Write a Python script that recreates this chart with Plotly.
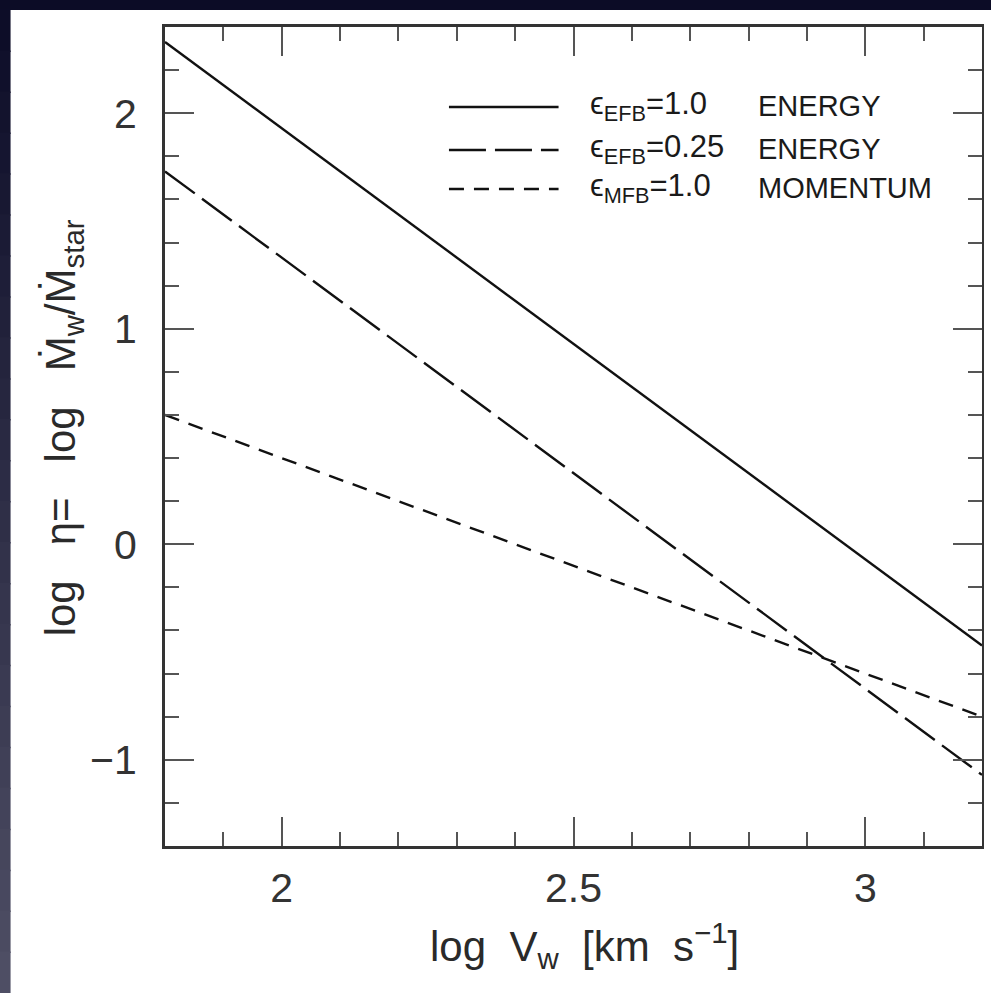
import plotly.graph_objects as go

# log wind velocity (km/s) at the two ends of the plotted range
log_vw = [1.8, 3.2]

# mass-loading factor log(eta) for each feedback model
eta_efb_100 = [2.33, -0.47]   # energy-driven, eps_EFB = 1.0
eta_efb_025 = [1.73, -1.07]   # energy-driven, eps_EFB = 0.25
eta_mfb_100 = [0.60, -0.80]   # momentum-driven, eps_MFB = 1.0

x_ticks = [2, 2.5, 3]
x_tick_text = ["2", "2.5", "3"]
y_ticks = [-1, 0, 1, 2]
y_tick_text = ["\u22121", "0", "1", "2"]

legend_left = ["\u03f5<sub>EFB</sub>=1.0", "\u03f5<sub>EFB</sub>=0.25", "\u03f5<sub>MFB</sub>=1.0"]
legend_right = ["ENERGY", "ENERGY", "MOMENTUM"]

W, H = 991, 993
L, R, T, B = 165, 985, 27, 846          # plot area in pixels
FONT = "Liberation Sans, Arial, sans-serif"
INK = "#1a1a1a"

dash_styles = ["solid", "37px,9px", "15px,10px"]
series = [eta_efb_100, eta_efb_025, eta_mfb_100]


def px_x(p):
    return (p - L) / (R - L)


def px_y(p):
    return (B - p) / (B - T)


fig = go.Figure()
for vals, dash in zip(series, dash_styles):
    fig.add_trace(go.Scatter(
        x=log_vw, y=vals, mode="lines",
        line=dict(color="#111111", width=2.4, dash=dash),
        showlegend=False, hoverinfo="skip",
    ))

shapes = []
# keep the right and bottom margins of the sheet white
shapes.append(dict(type="rect", xref="paper", yref="paper", layer="above",
                   x0=px_x(987), x1=px_x(W + 30), y0=px_y(H + 30), y1=px_y(10),
                   fillcolor="white", line=dict(width=0)))
shapes.append(dict(type="rect", xref="paper", yref="paper", layer="above",
                   x0=px_x(10), x1=px_x(W + 30), y0=px_y(H + 30), y1=px_y(975),
                   fillcolor="white", line=dict(width=0)))
# dark band along the top edge
shapes.append(dict(type="rect", xref="paper", yref="paper", layer="above",
                   x0=px_x(-20), x1=px_x(W + 20), y0=px_y(10), y1=px_y(-20),
                   fillcolor="#0c0c26", line=dict(width=0)))
# shaded left strip, darker at the top
n = 24
top_c = (13, 13, 40)
bot_c = (78, 78, 100)
for i in range(n):
    f = i / (n - 1)
    c = tuple(int(round(a + (b - a) * f)) for a, b in zip(top_c, bot_c))
    y_top = 10 + (H - 10) * i / n
    y_bot = 10 + (H - 10) * (i + 1) / n
    if i == n - 1:
        y_bot = H + 30
    shapes.append(dict(type="rect", xref="paper", yref="paper", layer="above",
                       x0=px_x(-20), x1=px_x(10), y0=px_y(y_bot + 1), y1=px_y(y_top - 0.5),
                       fillcolor="rgb(%d,%d,%d)" % c, line=dict(width=0)))

# legend line samples
legend_rows_y = [107, 150, 189]
for yy, dash in zip(legend_rows_y, dash_styles):
    shapes.append(dict(type="line", xref="paper", yref="paper",
                       x0=px_x(450), x1=px_x(560), y0=px_y(yy), y1=px_y(yy),
                       line=dict(color="#111111", width=2.4, dash=dash)))

annotations = []
for yy, lt, rt in zip(legend_rows_y, legend_left, legend_right):
    annotations.append(dict(xref="paper", yref="paper", x=px_x(590), y=px_y(yy - 1),
                            xanchor="left", yanchor="middle", showarrow=False,
                            text=lt, font=dict(family=FONT, size=31, color=INK)))
    annotations.append(dict(xref="paper", yref="paper", x=px_x(758), y=px_y(yy - 1),
                            xanchor="left", yanchor="middle", showarrow=False,
                            text=rt, font=dict(family=FONT, size=29, color=INK)))

# axis titles
annotations.append(dict(xref="paper", yref="paper", x=px_x(586), y=px_y(945),
                        xanchor="center", yanchor="middle", showarrow=False,
                        text="log\u00a0 V<sub>w</sub>\u00a0 [km\u00a0 s<sup>\u22121</sup>]",
                        font=dict(family=FONT, size=42, color="#2a2a2a")))
annotations.append(dict(xref="paper", yref="paper", x=px_x(63), y=px_y(428),
                        xanchor="center", yanchor="middle", showarrow=False,
                        textangle=-90,
                        text="log\u00a0\u00a0 \u03b7=\u00a0\u00a0 log\u00a0\u00a0 \u1e40<sub>w</sub>/\u1e40<sub>star</sub>",
                        font=dict(family=FONT, size=42, color="#2a2a2a")))

axis_common = dict(
    showline=True, linecolor="#333333", linewidth=3, mirror="allticks",
    ticks="inside", tickcolor="#555555", tickwidth=2, ticklen=29,
    showgrid=False, zeroline=False,
    tickfont=dict(family=FONT, size=41, color="#333333"),
)

fig.update_xaxes(
    range=[1.8, 3.2], tickmode="array", tickvals=x_ticks, ticktext=x_tick_text,
    ticklabelstandoff=4,
    minor=dict(ticks="inside", dtick=0.1, tick0=1.8, ticklen=14,
               tickcolor="#555555", tickwidth=2, showgrid=False),
    **axis_common,
)
fig.update_yaxes(
    range=[-1.4, 2.4], tickmode="array", tickvals=y_ticks, ticktext=y_tick_text,
    ticklabelstandoff=17,
    minor=dict(ticks="inside", dtick=0.2, tick0=-1.4, ticklen=14,
               tickcolor="#555555", tickwidth=2, showgrid=False),
    **axis_common,
)

fig.update_layout(
    width=W, height=H,
    margin=dict(l=L, r=W - R, t=T, b=H - B, pad=0),
    paper_bgcolor="white", plot_bgcolor="white",
    shapes=shapes, annotations=annotations,
    showlegend=False,
)

fig.write_html("out.html")
